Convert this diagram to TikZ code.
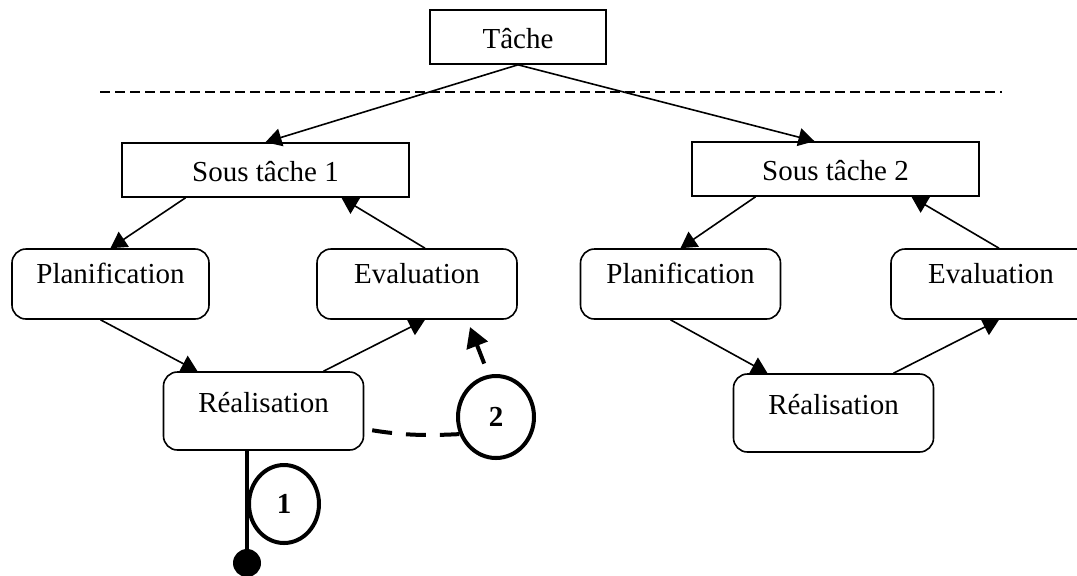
\documentclass[tikz,border=0pt]{standalone}
\usepackage{fontspec}
\setmainfont{Liberation Serif}
\usetikzlibrary{arrows.meta,shapes.geometric,positioning}

\begin{document}
\begin{tikzpicture}[x=0.5pt,y=-0.5pt,
		every node/.style={font=\fontsize{14.5}{17}\selectfont},
		flat/.style={draw,line width=0.8pt,inner sep=0pt,text height=19pt,text depth=8pt},
		soft/.style={draw,line width=0.8pt,rounded corners=7pt,inner sep=0pt,minimum width=100pt,text height=17pt,text depth=18pt},
		link/.style={line width=0.8pt,-{Triangle[length=8pt,width=9pt]}},
		numring/.style={ellipse,draw,line width=2pt,inner sep=0pt,font=\fontsize{14.5}{17}\selectfont\bfseries}]
		\useasboundingbox (0,0) rectangle (1077,575);
		%Boxes
		\node[flat,minimum width=88pt] (tache) at (518,37) {Tâche};
		\node[flat,minimum width=143.5pt] (st1) at (265.5,170) {Sous tâche 1};
		\node[flat,minimum width=143.5pt] (st2) at (835.5,169) {Sous tâche 2};
		\node[soft,minimum width=98.5pt] (plan1) at (110.5,284) {Planification};
		\node[soft] (eval1) at (417,284) {Evaluation};
		\node[soft,text height=20pt,text depth=19pt] (real1) at (263.5,411) {Réalisation};
		\node[soft] (plan2) at (680.5,284) {Planification};
		\node[soft] (eval2) at (991,284) {Evaluation};
		\node[soft,text height=20pt,text depth=19pt] (real2) at (833.5,413) {Réalisation};
		%Separation
		\coordinate (sepl) at (100,92);
		\coordinate (sepr) at (1002,92);
		\draw[line width=0.8pt,dash pattern=on 5pt off 2.5pt] (sepl) -- (sepr);
		%Arrows
		\draw[link] (tache.south) -- (st1.north);
		\draw[link] (tache.south) -- ([xshift=-10.5pt]st2.north);
		\foreach \i in {1,2}{
			\draw[link] ([xshift=-40pt]st\i.south) -- (plan\i.north);
			\draw[link] ([xshift=-5pt]plan\i.south) -- ([xshift=-33pt]real\i.north);
			\draw[link] ([xshift=30pt]real\i.north) -- ([xshift=4pt]eval\i.south);
			\draw[link] ([xshift=4pt]eval\i.north) -- ([xshift=38pt]st\i.south);
		}
		%Marks
		\node[numring,minimum width=35pt,minimum height=39pt] (c1) at (284,504) {1};
		\node[numring,minimum width=38pt,minimum height=41pt] (c2) at (496,417) {2};
		\node[circle,fill,inner sep=0pt,minimum size=14pt] (dot) at (247,563) {};
		\coordinate (c2tip) at (470,327);
		\draw[line width=2pt] ([xshift=-8.25pt]real1.south) -- (dot);
		\draw[line width=2pt,dash pattern=on 10pt off 7pt,shorten <=4pt] ([yshift=-9pt]real1.east) to[bend right=6] (c2.205);
		\draw[line width=2pt,-{Triangle[length=10pt,width=11pt]},shorten <=6pt] (c2.100) -- (c2tip);
\end{tikzpicture}
\end{document}
